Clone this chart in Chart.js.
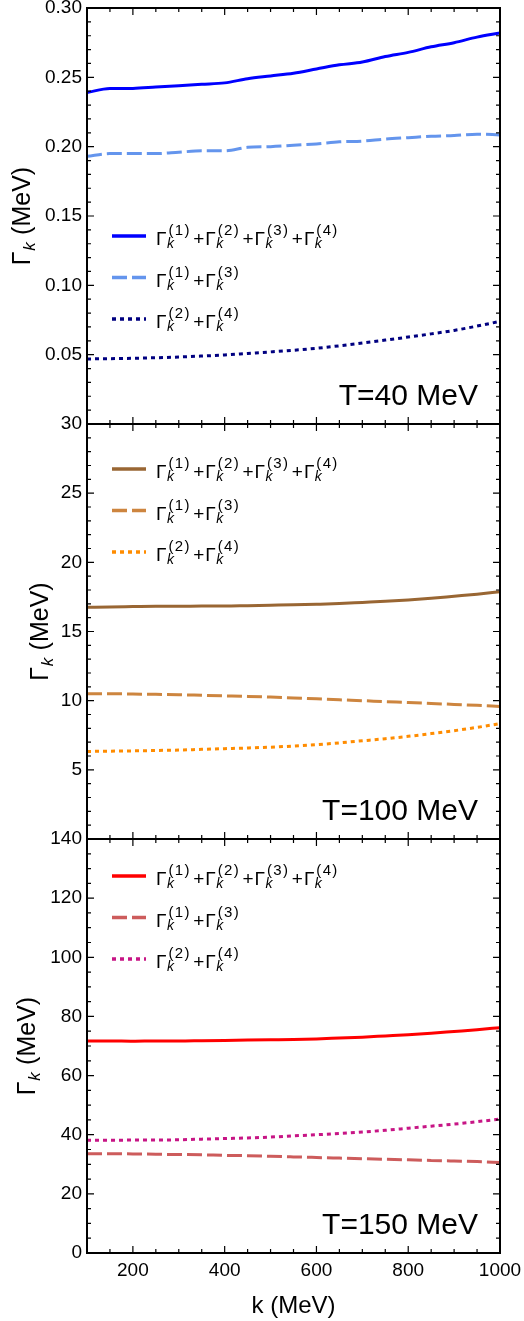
<!DOCTYPE html>
<html>
<head>
<meta charset="utf-8">
<script src="https://cdn.jsdelivr.net/npm/chart.js@4.4.1/dist/chart.umd.min.js"></script>
<style>
  html, body { margin: 0; padding: 0; background: #fff; }
  #wrap { position: relative; width: 524px; height: 1321px; overflow: hidden; }
  canvas { position: absolute; left: 0; }
</style>
</head>
<body>
<div id="wrap">
  <canvas id="p40" width="524" height="440" style="top:0px"></canvas>
  <canvas id="p100" width="524" height="440" style="top:414px"></canvas>
  <canvas id="p150" width="524" height="492" style="top:829px"></canvas>
</div>
<script>
(function() {
    'use strict';

    // momentum k (MeV)
    const K = [100, 150, 200, 250, 300, 350, 400, 450, 500, 550, 600, 650, 700, 750, 800, 850, 900, 950, 1000];

    // T = 40 MeV
    const T40_ALL = [0.239, 0.242, 0.242, 0.243, 0.244, 0.245, 0.246, 0.249, 0.251, 0.253, 0.256, 0.259, 0.261, 0.265, 0.268, 0.272, 0.275, 0.279, 0.282];
    const T40_13  = [0.193, 0.195, 0.195, 0.195, 0.196, 0.197, 0.197, 0.1995, 0.200, 0.201, 0.202, 0.2035, 0.204, 0.2055, 0.2065, 0.2075, 0.208, 0.209, 0.2085];
    const T40_24  = [0.0469, 0.0471, 0.0474, 0.0478, 0.0483, 0.049, 0.0498, 0.0509, 0.052, 0.0532, 0.0546, 0.0564, 0.0584, 0.0605, 0.0627, 0.065, 0.0675, 0.0706, 0.074];

    // T = 100 MeV
    const T100_ALL = [16.75, 16.78, 16.8, 16.82, 16.82, 16.84, 16.84, 16.87, 16.9, 16.93, 16.97, 17.02, 17.1, 17.18, 17.28, 17.4, 17.55, 17.7, 17.88];
    const T100_13  = [10.5, 10.5, 10.48, 10.46, 10.43, 10.39, 10.35, 10.31, 10.26, 10.2, 10.13, 10.06, 10.0, 9.93, 9.87, 9.8, 9.73, 9.66, 9.58];
    const T100_24  = [6.33, 6.35, 6.37, 6.4, 6.43, 6.48, 6.53, 6.58, 6.64, 6.72, 6.82, 6.95, 7.1, 7.25, 7.42, 7.62, 7.83, 8.07, 8.34];

    // T = 150 MeV
    const T150_ALL = [71.7, 71.7, 71.6, 71.7, 71.7, 71.8, 71.9, 72.0, 72.1, 72.2, 72.4, 72.7, 73.0, 73.4, 73.8, 74.3, 74.9, 75.5, 76.2];
    const T150_13  = [33.6, 33.6, 33.5, 33.4, 33.3, 33.2, 33.0, 32.9, 32.7, 32.5, 32.3, 32.1, 31.9, 31.7, 31.5, 31.3, 31.1, 30.9, 30.6];
    const T150_24  = [38.1, 38.1, 38.2, 38.2, 38.3, 38.5, 38.7, 38.9, 39.2, 39.6, 40.0, 40.4, 40.9, 41.5, 42.2, 42.9, 43.6, 44.4, 45.3];

    // which Γ_k^(n) terms each curve sums
    const LEGEND_TERMS = [[1, 2, 3, 4], [1, 3], [2, 4]];

    const X_TICKS = [200, 400, 600, 800, 1000];
    const PANEL_LABELS = ['T=40 MeV', 'T=100 MeV', 'T=150 MeV'];

    const FONT = '"Liberation Sans", Arial, Helvetica, sans-serif';

    const termLabel = (terms) => terms.map(n => 'Γk(' + n + ')').join('+');

    // draws Γ with subscript k and superscript (n), returns new x
    function drawGamma(ctx, x, y, n) {
        ctx.font = '19px ' + FONT;
        ctx.fillText('Γ', x, y);
        x += ctx.measureText('Γ').width + 0.5;
        ctx.font = 'italic 14px ' + FONT;
        ctx.fillText('k', x, y + 3);
        const wk = ctx.measureText('k').width;
        ctx.font = '15px ' + FONT;
        let sx = x + 1.5;
        ['(', String(n), ')'].forEach(ch => {
            ctx.fillText(ch, sx, y - 10);
            sx += ctx.measureText(ch).width + 1.3;
        });
        return Math.max(x + wk, sx);
    }

    function drawTerms(ctx, x, y, terms) {
        terms.forEach((n, i) => {
            if (i > 0) {
                ctx.font = '19px ' + FONT;
                x += 2.5;
                ctx.fillText('+', x, y);
                x += ctx.measureText('+').width + 1;
            }
            x = drawGamma(ctx, x, y, n);
        });
    }

    const framePlugin = {
        id: 'frameTicks',
        afterDraw(chart) {
            const cfg = chart.options.plugins.frameTicks;
            const { ctx, chartArea: a, scales: { x, y } } = chart;
            ctx.save();

            // inward ticks on all four sides
            ctx.strokeStyle = '#000';
            ctx.lineWidth = 1.2;
            ctx.beginPath();
            for (let v = x.min; v <= x.max + 1e-9; v += 50) {
                const px = x.getPixelForValue(v);
                const len = (v % 200 === 0) ? 7 : 4;
                ctx.moveTo(px, a.bottom); ctx.lineTo(px, a.bottom - len);
                ctx.moveTo(px, a.top); ctx.lineTo(px, a.top + len);
            }
            const nMinor = Math.round((y.max - y.min) / cfg.minor);
            for (let i = 0; i <= nMinor; i++) {
                const v = y.min + i * cfg.minor;
                const py = y.getPixelForValue(v);
                const major = i % cfg.perMajor === 0;
                const len = major ? 7 : 4;
                ctx.moveTo(a.left, py); ctx.lineTo(a.left + len, py);
                ctx.moveTo(a.right, py); ctx.lineTo(a.right - len, py);
            }
            ctx.stroke();

            ctx.lineWidth = 2;
            ctx.strokeRect(a.left, a.top, a.right - a.left, a.bottom - a.top);

            ctx.fillStyle = '#000';
            ctx.textBaseline = 'alphabetic';

            // y title Γ_k (MeV), rotated
            ctx.save();
            ctx.translate(cfg.titleX, (a.top + a.bottom) / 2);
            ctx.rotate(-Math.PI / 2);
            ctx.font = '25px ' + FONT;
            const wG = ctx.measureText('Γ').width;
            const wRest = ctx.measureText(' (MeV)').width;
            ctx.font = 'italic 17px ' + FONT;
            const wK = ctx.measureText('k').width;
            let tx = -(wG + wK + 1 + wRest) / 2;
            ctx.font = '25px ' + FONT;
            ctx.fillText('Γ', tx, 0);
            tx += wG + 0.5;
            ctx.font = 'italic 17px ' + FONT;
            ctx.fillText('k', tx, 5);
            tx += wK + 0.5;
            ctx.font = '25px ' + FONT;
            ctx.fillText(' (MeV)', tx, 0);
            ctx.restore();

            // legend
            chart.data.datasets.forEach((ds, i) => {
                const ly = a.top + cfg.legendTop + i * 41.5;
                ctx.save();
                ctx.strokeStyle = ds.borderColor;
                ctx.lineWidth = 3.5;
                ctx.setLineDash(ds.borderDash || []);
                ctx.beginPath();
                ctx.moveTo(112, ly);
                ctx.lineTo(146, ly);
                ctx.stroke();
                ctx.restore();
                drawTerms(ctx, 156, ly + 9, LEGEND_TERMS[i]);
            });

            // temperature tag
            ctx.font = '30px ' + FONT;
            ctx.textAlign = 'right';
            ctx.fillText(cfg.tag, 478, a.bottom - 19);

            ctx.restore();
        }
    };

    function makePanel(id, opts) {
        const el = document.getElementById(id);
        const showX = !!opts.showX;
        return new Chart(el, {
            type: 'line',
            data: {
                datasets: opts.series.map((s, i) => ({
                    label: termLabel(LEGEND_TERMS[i]),
                    data: K.map((k, j) => ({ x: k, y: s[j] })),
                    borderColor: opts.colors[i],
                    borderWidth: 3,
                    borderDash: [[], [15, 5], [4, 4]][i],
                    pointRadius: 0,
                    cubicInterpolationMode: 'monotone',
                    fill: false
                }))
            },
            options: {
                responsive: false,
                animation: false,
                layout: { padding: { top: opts.padTop, bottom: opts.padBottom, left: 0, right: 24 } },
                plugins: {
                    legend: { display: false },
                    tooltip: { enabled: false },
                    frameTicks: {
                        minor: opts.minor,
                        perMajor: opts.perMajor,
                        titleX: opts.titleX,
                        legendTop: opts.legendTop,
                        tag: opts.tag
                    }
                },
                scales: {
                    x: {
                        type: 'linear',
                        min: 100,
                        max: 1000,
                        display: showX,
                        afterBuildTicks: (scale) => {
                            scale.ticks = X_TICKS.map(v => ({ value: v }));
                        },
                        afterFit: (scale) => {
                            scale.height = showX ? 68 : 0;
                            scale.paddingLeft = 0;
                            scale.paddingRight = 0;
                        },
                        grid: { display: false, drawTicks: false },
                        border: { display: false },
                        ticks: {
                            autoSkip: false,
                            maxRotation: 0,
                            padding: 6,
                            color: '#000',
                            font: { family: FONT, size: 19 },
                            callback: (v) => String(v)
                        },
                        title: {
                            display: true,
                            text: 'k (MeV)',
                            color: '#000',
                            font: { family: FONT, size: 24 },
                            padding: { top: 2, bottom: 0 }
                        }
                    },
                    y: {
                        min: opts.yMin,
                        max: opts.yMax,
                        afterFit: (scale) => {
                            scale.width = 87;
                            scale.paddingTop = 0;
                            scale.paddingBottom = 0;
                        },
                        grid: { display: false, drawTicks: false },
                        border: { display: false },
                        ticks: {
                            stepSize: opts.step,
                            autoSkip: false,
                            padding: 5,
                            color: '#000',
                            font: { family: FONT, size: 19 },
                            callback: (v) => {
                                if (opts.hideBottom && Math.abs(v - opts.yMin) < 1e-9) return '';
                                return opts.fmt(v);
                            }
                        }
                    }
                }
            },
            plugins: [framePlugin]
        });
    }

    document.addEventListener('DOMContentLoaded', () => {
        makePanel('p40', {
            series: [T40_ALL, T40_13, T40_24],
            colors: ['#0000ff', '#6495ed', '#000080'],
            yMin: 0, yMax: 0.30, step: 0.05, minor: 0.01, perMajor: 5,
            fmt: (v) => v.toFixed(2), hideBottom: true,
            padTop: 8, padBottom: 16, titleX: 30, legendTop: 228,
            tag: PANEL_LABELS[0]
        });
        makePanel('p100', {
            series: [T100_ALL, T100_13, T100_24],
            colors: ['#996633', '#cd853f', '#ff8c00'],
            yMin: 0, yMax: 30, step: 5, minor: 1, perMajor: 5,
            fmt: (v) => String(Math.round(v)), hideBottom: true,
            padTop: 10, padBottom: 15, titleX: 48, legendTop: 45,
            tag: PANEL_LABELS[1]
        });
        makePanel('p150', {
            series: [T150_ALL, T150_13, T150_24],
            colors: ['#ff0000', '#cd5c5c', '#c71585'],
            yMin: 0, yMax: 140, step: 20, minor: 5, perMajor: 4,
            fmt: (v) => String(Math.round(v)), hideBottom: false,
            padTop: 10, padBottom: 0, titleX: 35, legendTop: 37,
            tag: PANEL_LABELS[2], showX: true
        });
    });

})();
</script>
</body>
</html>
